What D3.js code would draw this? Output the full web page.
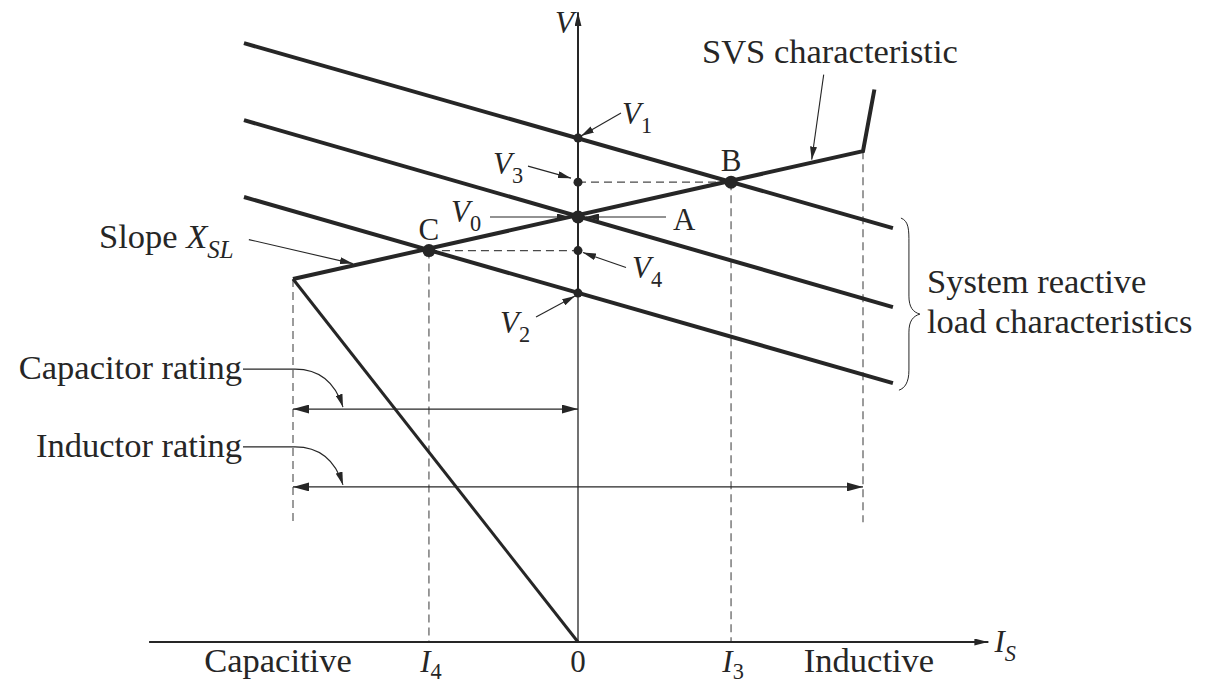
<!DOCTYPE html>
<html>
<head>
<meta charset="utf-8">
<script src="https://cdn.jsdelivr.net/npm/d3@7/dist/d3.min.js"></script>
<style>
  html, body { margin: 0; padding: 0; background: #fff; }
  svg { display: block; }
  text { font-family: "Liberation Serif", "DejaVu Serif", serif; fill: #262626; }
</style>
</head>
<body>
<svg id="chart" width="1211" height="688"></svg>
<script>
// ---- Data (per-unit current I_S and voltage V) ----
// SVS characteristic: origin -> full capacitive corner -> full inductive corner -> overload rise
const svsI = [0, -1, 1, 1.04];
const svsV = [0, 0.854, 1.155, 1.30];

// System reactive load characteristics (three parallel lines, end points)
const loadI = [-1.172, 1.105];
const loadHighV = [1.409, 0.974];
const loadMidV = [1.228, 0.788];
const loadLowV = [1.047, 0.609];

// Operating points
const opNames = ["A", "B", "C"];
const opI = [0, 0.537, -0.523];
const opV = [1.0, 1.082, 0.921];

// Voltage markers on the V axis
const vNames = ["1", "3", "0", "4", "2"];
const vValues = [1.186, 1.082, 1.0, 0.921, 0.821];

// Current tick labels
const tickNames = ["I4", "0", "I3"];
const tickI = [-0.523, 0, 0.537];

// Compensator ratings (current spans)
const capacitorSpan = [-1, 0];
const inductorSpan = [-1, 1];

// ---- Scales ----
const x = d3.scaleLinear().domain([-1, 1]).range([293, 863]);
const y = d3.scaleLinear().domain([0, 1]).range([642, 217]);

const ink = "#262626";
const svg = d3.select("#chart");

// Arrowhead markers
const defs = svg.append("defs");
function marker(id, len, wid) {
  defs.append("marker")
    .attr("id", id)
    .attr("viewBox", `0 0 ${len} ${wid}`)
    .attr("refX", len).attr("refY", wid / 2)
    .attr("markerWidth", len).attr("markerHeight", wid)
    .attr("markerUnits", "userSpaceOnUse")
    .attr("orient", "auto-start-reverse")
    .append("path")
    .attr("d", `M0,0 L${len},${wid / 2} L0,${wid} Z`)
    .attr("fill", ink);
}
marker("head", 13, 7);
marker("axisHead", 14, 7);
marker("bigHead", 16, 9);

const line = d3.line().x(d => x(d[0])).y(d => y(d[1]));

// ---- Dashed projection lines ----
const dashG = svg.append("g")
  .attr("stroke", "#4a4a4a").attr("stroke-width", 1.1)
  .attr("stroke-dasharray", "8,5").attr("fill", "none");
const ratingFloor = 0.282;
dashG.append("path").attr("d", line([[svsI[1], svsV[1]], [svsI[1], ratingFloor]]));
dashG.append("path").attr("d", line([[svsI[2], svsV[2]], [svsI[2], ratingFloor]]));
dashG.append("path").attr("d", line([[opI[1], opV[1]], [opI[1], 0]]));
dashG.append("path").attr("d", line([[opI[2], opV[2]], [opI[2], 0]]));
dashG.append("path").attr("d", line([[0, opV[1]], [opI[1], opV[1]]]));
dashG.append("path").attr("d", line([[opI[2], opV[2]], [0, opV[2]]]));

// ---- Axes ----
const iAxis = [-1.505, 1.44];
const vAxisTop = 1.482;
svg.append("path")
  .attr("d", line([[iAxis[0], 0], [iAxis[1], 0]]))
  .attr("stroke", ink).attr("stroke-width", 2).attr("fill", "none")
  .attr("marker-end", "url(#axisHead)");
svg.append("path")
  .attr("d", line([[0, 0], [0, vValues[4]]]))
  .attr("stroke", ink).attr("stroke-width", 1.3).attr("fill", "none");
svg.append("path")
  .attr("d", line([[0, vValues[4]], [0, vAxisTop]]))
  .attr("stroke", ink).attr("stroke-width", 2).attr("fill", "none")
  .attr("marker-end", "url(#axisHead)");

// ---- Load characteristics ----
[loadHighV, loadMidV, loadLowV].forEach(v => {
  svg.append("path")
    .attr("d", line(loadI.map((i, k) => [i, v[k]])))
    .attr("stroke", ink).attr("stroke-width", 4).attr("fill", "none");
});

// ---- SVS characteristic ----
const svsPts = svsI.map((i, k) => [i, svsV[k]]);
svg.append("path")
  .attr("d", line(svsPts.slice(0, 2)))
  .attr("stroke", ink).attr("stroke-width", 3).attr("fill", "none");
svg.append("path")
  .attr("d", line(svsPts.slice(1)))
  .attr("stroke", ink).attr("stroke-width", 4).attr("fill", "none")
  .attr("stroke-linejoin", "miter");

// ---- Rating arrows ----
const ratingLevels = [0.548, 0.365];
[capacitorSpan, inductorSpan].forEach((span, k) => {
  svg.append("path")
    .attr("d", line([[span[0], ratingLevels[k]], [span[1], ratingLevels[k]]]))
    .attr("stroke", ink).attr("stroke-width", 1.3).attr("fill", "none")
    .attr("marker-start", "url(#bigHead)")
    .attr("marker-end", "url(#bigHead)");
});

// ---- Points ----
svg.append("g").selectAll("circle")
  .data(vValues)
  .join("circle")
  .attr("cx", x(0)).attr("cy", d => y(d)).attr("r", 4.5).attr("fill", ink);
svg.append("g").selectAll("circle")
  .data(opI.map((i, k) => [i, opV[k]]))
  .join("circle")
  .attr("cx", d => x(d[0])).attr("cy", d => y(d[1])).attr("r", 6.5).attr("fill", ink);

// ---- Leader lines ----
const leadG = svg.append("g").attr("stroke", ink).attr("fill", "none").attr("stroke-width", 1.1);
function leader(x1, y1, x2, y2) {
  leadG.append("path").attr("d", `M${x1},${y1} L${x2},${y2}`).attr("marker-end", "url(#head)");
}
const x0 = x(0);
leader(x0 + 43, y(vValues[0]) - 25, x0 + 3, y(vValues[0]) - 2);     // V1
leader(x0 - 50, y(vValues[1]) - 16, x0 - 7, y(vValues[1]) - 4);     // V3
leader(x0 - 88, y(vValues[2]), x0 - 8, y(vValues[2]));              // V0
leader(x0 + 88, y(vValues[2]), x0 + 8, y(vValues[2]));              // A
leader(x0 + 48, y(vValues[3]) + 17, x0 + 5, y(vValues[3]) + 2);     // V4
leader(x0 - 42, y(vValues[4]) + 24, x0 - 3, y(vValues[4]) + 3);     // V2

// Slope X_SL pointer onto the SVS line
const slopeAt = -0.79;
const slopeV = svsV[1] + (svsV[2] - svsV[1]) * (slopeAt - svsI[1]) / (svsI[2] - svsI[1]);
leader(x(slopeAt) - 104, y(slopeV) - 26, x(slopeAt), y(slopeV) - 2);

// SVS characteristic pointer
const svsAt = 0.82;
const svsAtV = svsV[1] + (svsV[2] - svsV[1]) * (svsAt - svsI[1]) / (svsI[2] - svsI[1]);
leader(x(svsAt) + 12, y(svsAtV) - 88, x(svsAt), y(svsAtV) - 3);

// Rating pointers (horizontal tail, then curved drop onto the arrow)
ratingLevels.forEach(lv => {
  const yl = y(lv);
  leadG.append("path")
    .attr("d", `M${x(-1) - 50},${yl - 40} L${x(-1) + 2},${yl - 40} Q${x(-1) + 38},${yl - 40} ${x(-1) + 50},${yl - 2}`)
    .attr("marker-end", "url(#head)");
});

// Brace grouping the load characteristics
const bx = x(loadI[1]) + 8;
const byTop = y(loadHighV[1]) - 10, byBot = y(loadLowV[1]) + 7;
const byMid = (byTop + byBot) / 2 + 10;
leadG.append("path")
  .attr("stroke-width", 1)
  .attr("d", `M${bx},${byTop} C${bx + 8},${byTop + 3} ${bx + 8},${byTop + 12} ${bx + 8},${byTop + 25}
              L${bx + 8},${byMid - 18} C${bx + 8},${byMid - 7} ${bx + 12},${byMid - 2} ${bx + 19},${byMid}
              C${bx + 12},${byMid + 2} ${bx + 8},${byMid + 7} ${bx + 8},${byMid + 18}
              L${bx + 8},${byBot - 20} C${bx + 8},${byBot - 8} ${bx + 4},${byBot - 2} ${bx - 2},${byBot}`);

// ---- Text ----
const fs = 34.5;   // captions
const vs = 31;     // symbol labels
function label(px, py, parts, anchor = "start", size = fs, subShift = 0.3) {
  const t = svg.append("text").attr("x", px).attr("y", py)
    .attr("font-family", "'Liberation Serif', 'DejaVu Serif', serif")
    .attr("font-size", size).attr("text-anchor", anchor);
  let shifted = 0;
  parts.forEach(p => {
    const s = t.append("tspan").text(p.t);
    if (p.it) s.attr("font-style", "italic");
    if (p.sub) {
      s.attr("font-size", size * 0.72);
      if (!shifted) { s.attr("dy", size * subShift); shifted = 1; }
    } else if (shifted) {
      s.attr("dy", -size * subShift); shifted = 0;
    }
  });
  return t;
}

label(x0 - 4, 33, [{ t: "V", it: 1 }], "end", vs);
label(x0 + 44, y(vValues[0]) - 14, [{ t: "V", it: 1 }, { t: vNames[0], sub: 1 }], "start", vs);
label(x0 - 85, y(vValues[1]) - 8, [{ t: "V", it: 1 }, { t: vNames[1], sub: 1 }], "start", vs);
label(x0 - 127, y(vValues[2]) + 5, [{ t: "V", it: 1 }, { t: vNames[2], sub: 1 }], "start", vs);
label(x0 + 54, y(vValues[3]) + 27, [{ t: "V", it: 1 }, { t: vNames[3], sub: 1 }], "start", vs);
label(x0 - 78, y(vValues[4]) + 40, [{ t: "V", it: 1 }, { t: vNames[4], sub: 1 }], "start", vs);

label(x0 + 95, y(opV[0]) + 13, [{ t: opNames[0] }], "start", vs);
label(x(opI[1]), y(opV[1]) - 11, [{ t: opNames[1] }], "middle", vs);
label(x(opI[2]), y(opV[2]) - 11, [{ t: opNames[2] }], "middle", vs);

label(702, 63, [{ t: "SVS characteristic" }]);
label(99, 248, [{ t: "Slope " }, { t: "X", it: 1 }, { t: "SL", it: 1, sub: 1 }]);
label(927, 293, [{ t: "System reactive" }]);
label(927, 333, [{ t: "load characteristics" }]);
label(x(-1) - 51, y(ratingLevels[0]) - 30, [{ t: "Capacitor rating" }], "end");
label(x(-1) - 51, y(ratingLevels[1]) - 30, [{ t: "Inductor rating" }], "end");

// Current axis labels
const baseY = 672;
label(278, baseY, [{ t: "Capacitive" }], "middle");
label(869, baseY, [{ t: "Inductive" }], "middle");
tickNames.forEach((n, k) => {
  const parts = n === "0" ? [{ t: "0" }] : [{ t: "I", it: 1 }, { t: n.slice(1), sub: 1 }];
  label(x(tickI[k]) + (n === "0" ? 0 : 2), baseY, parts, "middle", vs, 0.24);
});
label(x(iAxis[1]) + 6, 652, [{ t: "I", it: 1 }, { t: "S", it: 1, sub: 1 }], "start", vs);
</script>
</body>
</html>
